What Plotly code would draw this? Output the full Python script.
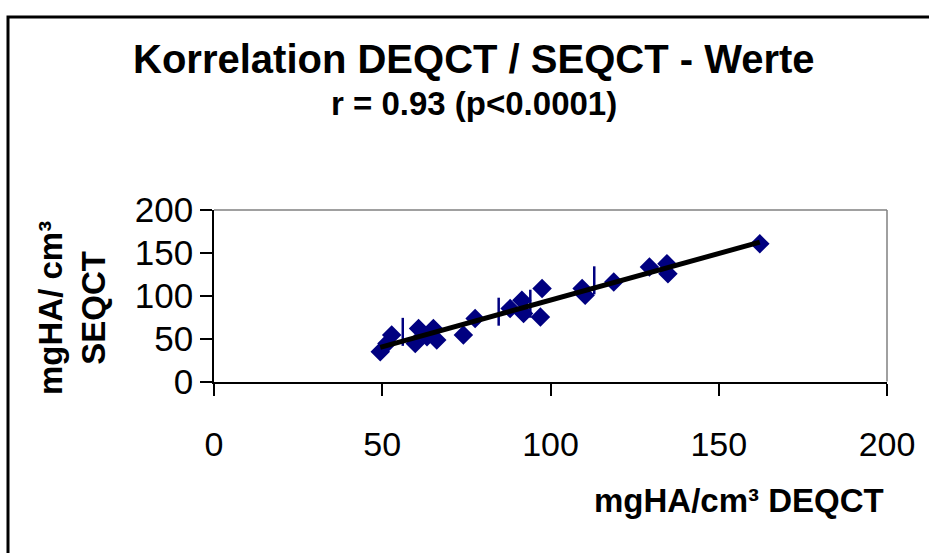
import numpy as np
import plotly.graph_objects as go

# DEQCT (x) vs SEQCT (y) values, mgHA/cm3
deqct = [49.4, 51.4, 52.8, 60.8, 59.8, 63.3, 65.2, 66.2, 74.1, 77.6, 88.0, 91.5,
         92.0, 97.5, 97.0, 109.4, 110.3, 118.8, 129.4, 134.6, 134.9, 162.2]
seqct = [34.7, 44.4, 54.1, 61.9, 44.4, 52.1, 61.9, 48.3, 54.1, 73.5, 85.1, 94.8,
         79.3, 108.4, 75.3, 108.4, 100.6, 116.0, 133.5, 137.4, 125.8, 160.7]
# second marker series (vertical dash markers)
deqct_b = [56.1, 84.6, 94.0, 113.0]
seqct_b = [57.9, 81.4, 90.7, 118.0]

x_ticks = [0, 50, 100, 150, 200]
y_ticks = [0, 50, 100, 150, 200]

slope, intercept = np.polyfit(deqct, seqct, 1)
x_fit = np.array([min(deqct), max(deqct)])
y_fit = slope * x_fit + intercept

W, H = 929, 553
FONT = "Liberation Sans, Arial, sans-serif"
NAVY = "#000080"

fig = go.Figure()
fig.add_trace(go.Scatter(x=deqct, y=seqct, mode="markers",
                         marker=dict(symbol="diamond", size=15, color=NAVY,
                                     line=dict(width=0)),
                         cliponaxis=False, showlegend=False))
fig.add_trace(go.Scatter(x=deqct_b, y=seqct_b, mode="markers",
                         marker=dict(symbol="line-ns", size=20,
                                     line=dict(width=2.5, color=NAVY)),
                         cliponaxis=False, showlegend=False))
fig.add_trace(go.Scatter(x=x_fit, y=y_fit, mode="lines",
                         line=dict(color="black", width=5),
                         cliponaxis=False, showlegend=False))

px0, px1 = 214, 887
py_top, py_bot = 210, 381.5
xd = [px0 / W, px1 / W]
yd = [1 - py_bot / H, 1 - py_top / H]

fig.update_layout(
    width=W, height=H,
    margin=dict(l=0, r=0, t=0, b=0, pad=0, autoexpand=False),
    showlegend=False,
    paper_bgcolor="white", plot_bgcolor="white",
    font=dict(family=FONT, color="black"),
    xaxis=dict(domain=xd, range=[0, 200], tickvals=x_ticks, ticks="outside",
               ticklen=12, tickwidth=1.5, tickcolor="black", showgrid=False,
               zeroline=False, showline=True, linecolor="black", linewidth=2,
               automargin=False,
               tickfont=dict(size=34, family=FONT), ticklabelstandoff=20),
    yaxis=dict(domain=yd, range=[0, 200], tickvals=y_ticks, ticks="outside",
               ticklen=12, tickwidth=1.5, tickcolor="black", showgrid=False,
               zeroline=False, showline=True, linecolor="black", linewidth=1.5,
               automargin=False,
               tickfont=dict(size=35, family=FONT), ticklabelstandoff=0),
    shapes=[
        dict(type="line", xref="paper", yref="paper", x0=xd[0], x1=xd[1],
             y0=yd[1], y1=yd[1], line=dict(color="#808080", width=1.5)),
        dict(type="line", xref="paper", yref="paper", x0=xd[1], x1=xd[1],
             y0=yd[0], y1=yd[1], line=dict(color="#808080", width=1.5)),
        dict(type="rect", xref="paper", yref="paper", x0=8 / W, x1=1.05,
             y0=-0.05, y1=1 - 17 / H, line=dict(color="black", width=3)),
    ],
    annotations=[
        dict(text="<b>Korrelation DEQCT / SEQCT - Werte</b>", xref="paper",
             yref="paper", x=474 / W, y=1 - 59 / H, showarrow=False,
             font=dict(size=40, family=FONT), xanchor="center", yanchor="middle"),
        dict(text="<b>r = 0.93 (p<0.0001)</b>", xref="paper",
             yref="paper", x=474 / W, y=1 - 103 / H, showarrow=False,
             font=dict(size=33, family=FONT), xanchor="center", yanchor="middle"),
        dict(text="<b>mgHA/cm³ DEQCT</b>", xref="paper", yref="paper",
             x=886 / W, y=1 - 500 / H, showarrow=False,
             font=dict(size=33, family=FONT), xanchor="right", yanchor="middle"),
        dict(text="<b>mgHA/ cm³<br>SEQCT</b>", xref="paper", yref="paper",
             x=72 / W, y=1 - 308 / H, showarrow=False, textangle=-90,
             font=dict(size=33, family=FONT), xanchor="center", yanchor="middle"),
    ],
)

fig.write_html("out.html")
